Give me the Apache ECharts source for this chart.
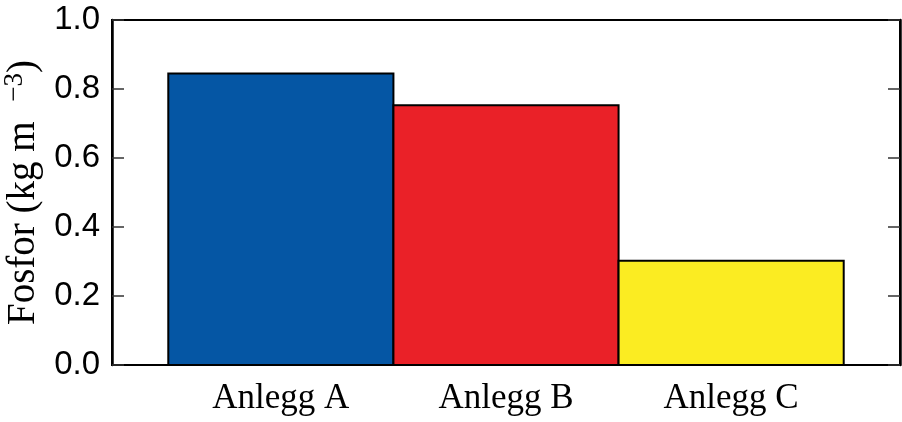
<!DOCTYPE html>
<html><head><meta charset="utf-8">
<script src="https://cdn.jsdelivr.net/npm/echarts@6/dist/echarts.min.js"></script>
<style>html,body{margin:0;padding:0;background:#fff}#c{width:902px;height:422px}</style>
</head><body><div id="c"></div>
<script>
var categories = ['Anlegg A', 'Anlegg B', 'Anlegg C'];
var values = [0.845, 0.753, 0.302];
var colors = ['#0556a4', '#ea2128', '#fbec22'];

var chart = echarts.init(document.getElementById('c'));
var data = values.map(function (v, i) { return [i, v]; });
chart.setOption({
  animation: false,
  grid: { left: 112, right: 2, top: 20, bottom: 57, containLabel: false, outerBoundsMode: 'none',
    show: true, borderColor: '#000', borderWidth: 2, backgroundColor: 'transparent' },
  xAxis: {
    type: 'value', min: -0.75, max: 2.75, interval: 0.25,
    axisLine: { show: false, onZero: false }, axisTick: { show: false }, splitLine: { show: false },
    axisLabel: {
      margin: 16, fontFamily: 'Liberation Serif', fontSize: 35, color: '#000',
      formatter: function (v) { return (Math.abs(v - Math.round(v)) < 1e-6 && v >= 0 && v <= 2) ? categories[Math.round(v)] : ''; }
    }
  },
  yAxis: [{
    type: 'value', min: 0, max: 1, interval: 0.2, position: 'left',
    axisLine: { show: true, onZero: false, lineStyle: { color: '#000', width: 2.5 } },
    axisTick: { show: true, inside: true, length: 12, lineStyle: { color: '#333', width: 1.5 } },
    splitLine: { show: false },
    axisLabel: { margin: 12, fontFamily: 'Liberation Sans', fontSize: 33, color: '#000',
      formatter: function (v) { return v.toFixed(1); } },
    name: '{a|Fosfor (kg m }{s|\u22123}{a|)}', nameLocation: 'middle', nameGap: 64,
    nameTextStyle: { rich: {
      a: { fontFamily: 'Liberation Serif', fontSize: 39, color: '#000' },
      s: { fontFamily: 'Liberation Serif', fontSize: 27, color: '#000', verticalAlign: 'top', padding: [0, 0, 18, 10] }
    } }
  }, {
    type: 'value', min: 0, max: 1, interval: 0.2, position: 'right',
    axisLine: { show: true, onZero: false, lineStyle: { color: '#000', width: 2.5 } },
    axisTick: { show: true, inside: true, length: 12, lineStyle: { color: '#333', width: 1.5 } },
    splitLine: { show: false }, axisLabel: { show: false }
  }],
  series: [{
    type: 'custom',
    data: data,
    encode: { x: 0, y: 1 },
    renderItem: function (params, api) {
      var i = api.value(0), v = api.value(1);
      var p0 = api.coord([i - 0.5, v]);
      var p1 = api.coord([i + 0.5, 0]);
      return {
        type: 'rect',
        shape: { x: p0[0], y: p0[1], width: p1[0] - p0[0], height: p1[1] - p0[1] },
        style: { fill: colors[params.dataIndex], stroke: '#000', lineWidth: 2 }
      };
    }
  }]
});
</script></body></html>
